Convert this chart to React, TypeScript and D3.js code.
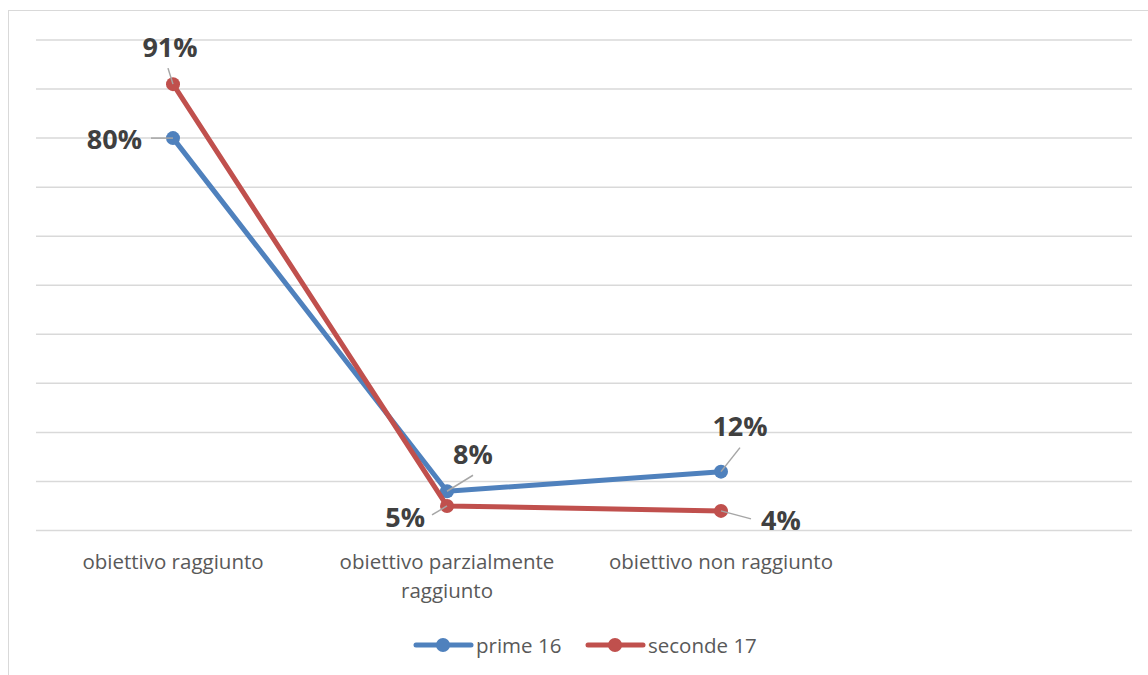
import React from "react";
import * as d3 from "d3";

const categories = ["obiettivo raggiunto", "obiettivo parzialmente raggiunto", "obiettivo non raggiunto", ""];
const categoryLines = [["obiettivo raggiunto"], ["obiettivo parzialmente", "raggiunto"], ["obiettivo non raggiunto"], []];
const seriesNames = ["prime 16", "seconde 17"];
const prime16 = [0.80, 0.08, 0.12];
const seconde17 = [0.91, 0.05, 0.04];
const yTicks = [0, 0.1, 0.2, 0.3, 0.4, 0.5, 0.6, 0.7, 0.8, 0.9, 1.0];

const colors = ["#4F81BD", "#C0504D"];

const labelPos = [
  [
    { dx: -31, dy: 0, anchor: "end", lx1: -22, ly1: 0 },
    { dx: 26, dy: -38, anchor: "middle", lx1: 26, ly1: -16 },
    { dx: 19, dy: -46, anchor: "middle", lx1: 19, ly1: -24 },
  ],
  [
    { dx: -3, dy: -38, anchor: "middle", lx1: -5, ly1: -16 },
    { dx: -22, dy: 11, anchor: "end", lx1: -15, ly1: 9 },
    { dx: 40, dy: 9, anchor: "start", lx1: 30, ly1: 8 },
  ],
];

export default function App() {
  const W = 1148, H = 675;
  const x = d3.scaleBand().domain(categories.map((c, i) => String(i))).range([36, 1132]);
  const y = d3.scaleLinear().domain([0, 1]).range([530.5, 40]);
  const series = [prime16, seconde17];
  const cx = (i: number) => (x(String(i)) as number) + x.bandwidth() / 2;
  const line = d3.line<number>().x((_, i) => cx(i)).y((d) => y(d));
  const fmt = d3.format(".0%");
  const font = "'Open Sans', 'DejaVu Sans', sans-serif";

  return (
    <svg width={W} height={H} style={{ position: "absolute", left: 0, top: 0 }}>
      <rect x={0} y={0} width={W} height={H} fill="#fff" />
      <rect x={8.5} y={10.5} width={W + 10} height={H + 10} fill="none" stroke="#d9d9d9" strokeWidth={1} />
      {yTicks.map((t) => (
        <line key={t} x1={36} x2={1132} y1={y(t)} y2={y(t)} stroke="#d9d9d9" strokeWidth={1.5} />
      ))}
      {categoryLines.map((lines, i) => (
        <text key={i} x={cx(i)} y={569} textAnchor="middle" fontFamily={font} fontSize={20.5} fill="#595959">
          {lines.map((l, j) => (
            <tspan key={j} x={cx(i)} dy={j === 0 ? 0 : 29}>{l}</tspan>
          ))}
        </text>
      ))}
      {series.map((s, si) => (
        <g key={si}>
          <path d={line(s) as string} fill="none" stroke={colors[si]} strokeWidth={5} strokeLinejoin="round" strokeLinecap="round" />
          {s.map((v, i) => (
            <circle key={i} cx={cx(i)} cy={y(v)} r={7} fill={colors[si]} />
          ))}
        </g>
      ))}
      {series.map((s, si) =>
        s.map((v, i) => {
          const p = labelPos[si][i];
          const px = cx(i), py = y(v);
          return (
            <g key={`${si}-${i}`}>
              <line x1={px + p.lx1} y1={py + p.ly1} x2={px} y2={py} stroke="#a6a6a6" strokeWidth={1.5} />
              <text x={px + p.dx} y={py + p.dy} textAnchor={p.anchor as any} dominantBaseline="central" fontFamily={font} fontWeight="bold" fontSize={27} fill="#404040">
                {fmt(v)}
              </text>
            </g>
          );
        })
      )}
      {seriesNames.map((n, si) => {
        const lx = [416, 588][si];
        return (
          <g key={n}>
            <line x1={lx} x2={lx + 55} y1={645} y2={645} stroke={colors[si]} strokeWidth={5} strokeLinecap="round" />
            <circle cx={lx + 27} cy={645} r={7} fill={colors[si]} />
            <text x={lx + 60} y={645} dominantBaseline="central" fontFamily={font} fontSize={20.5} fill="#595959">{n}</text>
          </g>
        );
      })}
    </svg>
  );
}
